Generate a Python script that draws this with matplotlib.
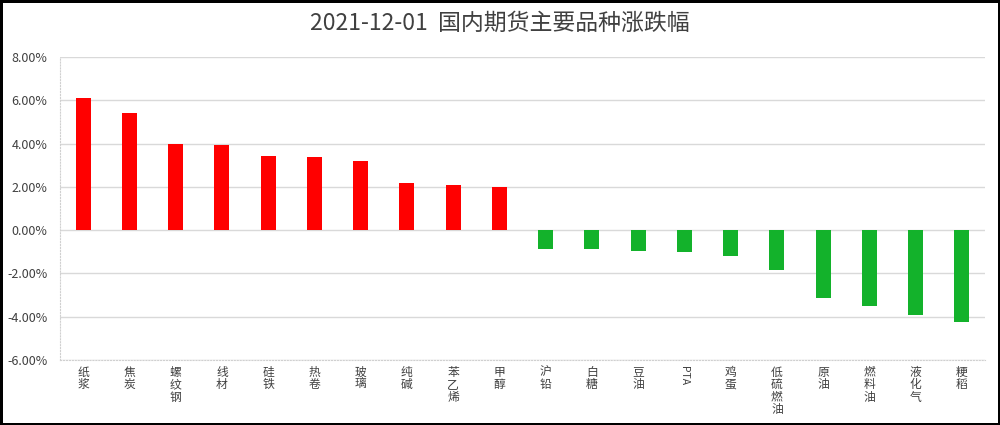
import matplotlib
matplotlib.use("Agg")
import matplotlib.pyplot as plt
from matplotlib.ticker import FuncFormatter

plt.rcParams['font.family'] = ['Noto Sans CJK SC', 'DejaVu Sans']

title = "2021-12-01  国内期货主要品种涨跌幅"
categories = ["纸浆", "焦炭", "螺纹钢", "线材", "硅铁", "热卷", "玻璃", "纯碱", "苯乙烯", "甲醇",
              "沪铅", "白糖", "豆油", "PTA", "鸡蛋", "低硫燃油", "原油", "燃料油", "液化气", "粳稻"]
values = [6.10, 5.39, 4.00, 3.94, 3.41, 3.36, 3.19, 2.17, 2.10, 1.98,
          -0.87, -0.87, -0.97, -1.02, -1.19, -1.83, -3.14, -3.51, -3.94, -4.25]
y_ticks = [-6, -4, -2, 0, 2, 4, 6, 8]

fig = plt.figure(figsize=(10, 4.25), dpi=100)
fig.patch.set_edgecolor('black')
fig.patch.set_linewidth(2.5)
ax = fig.add_axes([0.06, 0.153, 0.925, 0.713])

colors = ['#FF0000' if v >= 0 else '#13B22B' for v in values]
x = list(range(len(categories)))
ax.bar(x, values, width=0.32, color=colors, zorder=3)

ax.set_xlim(-0.5, len(categories) - 0.5)
ax.set_ylim(-6, 8)
ax.set_yticks(y_ticks)
ax.yaxis.set_major_formatter(FuncFormatter(lambda v, p: f"{v:.2f}%"))
ax.tick_params(axis='y', length=0, labelsize=9, labelcolor='#404040', pad=9)
ax.tick_params(axis='x', length=0, pad=4)
ax.grid(axis='y', color='#D9D9D9', linewidth=1, zorder=0)
for s in ['top', 'right']:
    ax.spines[s].set_visible(False)
for s in ['left', 'bottom']:
    ax.spines[s].set_color('#D0D0D0')
    ax.spines[s].set_linestyle(':')

ax.set_xticks(x)
labels = []
for c in categories:
    if c.isascii():
        labels.append(c)
    else:
        labels.append("\n".join(c))
ax.set_xticklabels(labels, fontsize=8.5, color='#404040', linespacing=0.95, va='top')
for t, c in zip(ax.get_xticklabels(), categories):
    if c.isascii():
        t.set_rotation(-90)
        t.set_fontsize(7.5)

fig.text(0.5, 0.945, title, ha='center', va='center', fontsize=16.5,
         color='#404040', fontweight='medium')

fig.savefig("out.png", dpi=100, edgecolor=fig.get_edgecolor())
